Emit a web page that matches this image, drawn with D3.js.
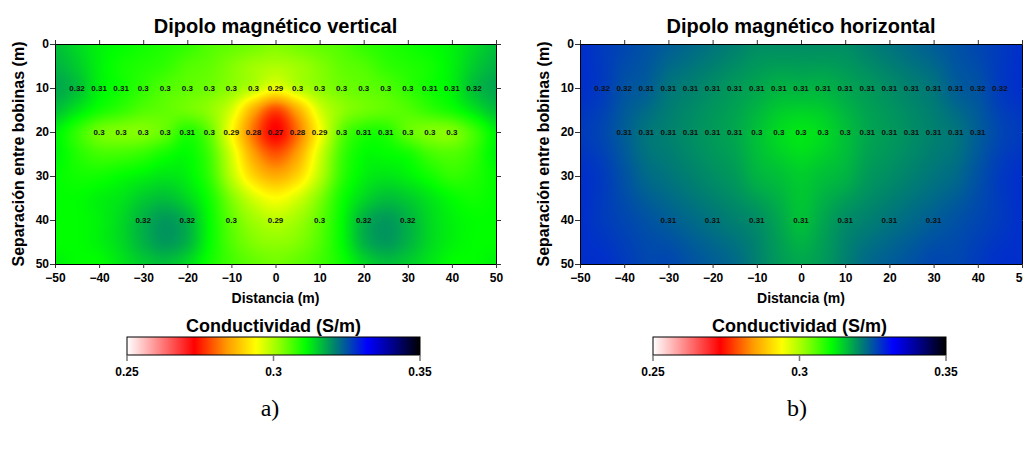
<!DOCTYPE html>
<html><head><meta charset="utf-8">
<script src="https://cdn.jsdelivr.net/npm/d3@7"></script>
<style>body{margin:0;background:#fff}svg{display:block}</style>
</head><body>
<svg id="c" width="1023" height="449"></svg>
<script>
// ---------- data ----------
const xTicks = [-50,-40,-30,-20,-10,0,10,20,30,40,50];
const yTicks = [0,10,20,30,40,50];
const colorTicks = [0.25,0.3,0.35];
const colorStops = [0.25,0.273,0.284,0.294,0.302,0.311,0.321,0.332,0.341,0.35];
const colorRange = ["#ffffff","#ff0000","#ff9900","#ffff00","#90ff00","#00ff00","#00806f","#0000ff","#000088","#000000"];

// label points (distance, separation, value)
const x10 = [-45,-40,-35,-30,-25,-20,-15,-10,-5,0,5,10,15,20,25,30,35,40,45];
const x20 = [-40,-35,-30,-25,-20,-15,-10,-5,0,5,10,15,20,25,30,35,40];
const x40 = [-30,-20,-10,0,10,20,30];
const vmd10 = [0.32,0.31,0.31,0.3,0.3,0.3,0.3,0.3,0.3,0.29,0.3,0.3,0.3,0.3,0.3,0.3,0.31,0.31,0.32];
const vmd20 = [0.3,0.3,0.3,0.3,0.31,0.3,0.29,0.28,0.27,0.28,0.29,0.3,0.31,0.31,0.3,0.3,0.3];
const vmd40 = [0.32,0.32,0.3,0.29,0.3,0.32,0.32];
const hmd10 = [0.32,0.32,0.31,0.31,0.31,0.31,0.31,0.31,0.31,0.31,0.31,0.31,0.31,0.31,0.31,0.31,0.31,0.32,0.32];
const hmd20 = [0.31,0.31,0.31,0.31,0.31,0.31,0.3,0.3,0.3,0.3,0.3,0.31,0.31,0.31,0.31,0.31,0.31];
const hmd40 = [0.31,0.31,0.31,0.31,0.31,0.31,0.31];

// gridded surfaces
const gridX = [-50,-45,-40,-35,-30,-25,-20,-15,-10,-5,0,5,10,15,20,25,30,35,40,45,50];
const vmdGridY = [0,5,10,15,20,25,30,35,40,45,50];
const vmdGrid = [
 [.316,.314,.312,.311,.310,.309,.308,.306,.305,.304,.303,.304,.305,.306,.308,.309,.310,.311,.312,.314,.316],
 [.317,.315,.312,.310,.309,.308,.306,.305,.303,.301,.300,.301,.303,.305,.306,.308,.309,.310,.312,.315,.317],
 [.318,.316,.312,.310,.308,.306,.305,.304,.302,.299,.295,.299,.302,.304,.305,.306,.308,.310,.312,.316,.318],
 [.316,.313,.310,.308,.306,.305,.304,.302,.297,.286,.278,.286,.297,.302,.304,.305,.306,.308,.310,.313,.316],
 [.312,.308,.304,.303,.303,.305,.309,.305,.294,.281,.273,.281,.294,.305,.309,.309,.305,.303,.303,.307,.312],
 [.312,.309,.307,.307,.308,.310,.311,.307,.297,.285,.279,.285,.297,.307,.311,.311,.310,.307,.306,.308,.312],
 [.311,.310,.310,.311,.312,.313,.312,.308,.299,.290,.286,.290,.299,.308,.312,.313,.312,.310,.308,.309,.311],
 [.311,.311,.312,.313,.315,.316,.314,.310,.303,.297,.294,.297,.303,.310,.314,.316,.315,.313,.311,.310,.311],
 [.311,.311,.312,.314,.317,.319,.317,.311,.305,.301,.299,.301,.305,.311,.317,.319,.317,.314,.312,.311,.311],
 [.311,.311,.312,.314,.317,.319,.317,.311,.306,.303,.302,.303,.306,.311,.317,.319,.317,.314,.312,.311,.311],
 [.312,.311,.311,.313,.315,.316,.314,.310,.307,.305,.304,.305,.307,.310,.314,.316,.315,.313,.311,.311,.312]
];
const hmdGridY = [0,10,20,30,40,50];
const hmdGrid = [
 [.328,.327,.326,.325,.324,.323,.322,.321,.320,.320,.320,.320,.320,.321,.322,.323,.324,.325,.326,.327,.328],
 [.328,.327,.325,.324,.322,.321,.320,.319,.318,.317,.317,.317,.318,.319,.320,.321,.322,.324,.325,.327,.328],
 [.327,.326,.324,.322,.321,.320,.319,.318,.316,.314,.313,.314,.316,.318,.319,.320,.321,.322,.324,.326,.327],
 [.328,.327,.325,.323,.322,.321,.320,.319,.317,.316,.315,.316,.317,.319,.320,.321,.322,.323,.325,.327,.328],
 [.328,.327,.326,.325,.324,.323,.322,.321,.320,.318,.316,.318,.320,.321,.322,.323,.324,.325,.326,.327,.328],
 [.328,.328,.327,.326,.326,.325,.324,.323,.321,.319,.318,.319,.321,.323,.324,.325,.326,.326,.327,.328,.328]
];

// ---------- drawing ----------
const FONT = "'Liberation Sans', Arial, sans-serif";
const svg = d3.select("#c");
const color = d3.scaleLinear().domain(colorStops).range(colorRange).interpolate(d3.interpolateRgb).clamp(true);

function cr(p0,p1,p2,p3,t){
  return 0.5*(2*p1 + (-p0+p2)*t + (2*p0-5*p1+4*p2-p3)*t*t + (-p0+3*p1-3*p2+p3)*t*t*t);
}
function sampler(gx, gy, grid){
  const fx = d3.scaleLinear().domain(d3.extent(gx)).range([0,gx.length-1]);
  const fy = d3.scaleLinear().domain(d3.extent(gy)).range([0,gy.length-1]);
  const nr = gy.length, nc = gx.length;
  const g = (i,j)=>grid[Math.max(0,Math.min(nr-1,i))][Math.max(0,Math.min(nc-1,j))];
  return (x,y)=>{
    const a = fx(x), b = fy(y);
    let j = Math.min(nc-2, Math.floor(a)), i = Math.min(nr-2, Math.floor(b));
    const tx = a-j, ty = b-i;
    const r = [];
    for(let m=-1;m<=2;m++) r.push(cr(g(i+m,j-1),g(i+m,j),g(i+m,j+1),g(i+m,j+2),tx));
    return cr(r[0],r[1],r[2],r[3],ty);
  };
}

function panel(opt){
  const x = d3.scaleLinear().domain([-50,50]).range([opt.x0,opt.x1]);
  const y = d3.scaleLinear().domain([0,50]).range([44,264]);
  const W = Math.round(opt.x1-opt.x0), H = 220;
  const f = sampler(gridX, opt.gridY, opt.grid);
  const cv = document.createElement("canvas"); cv.width=W; cv.height=H;
  const ctx = cv.getContext("2d"); const img = ctx.createImageData(W,H);
  for(let py=0;py<H;py++){
    const yy = y.invert(44+py+0.5);
    for(let px=0;px<W;px++){
      const xx = x.invert(opt.x0+px+0.5);
      const c = d3.rgb(color(f(xx,yy)));
      const k=(py*W+px)*4; img.data[k]=c.r; img.data[k+1]=c.g; img.data[k+2]=c.b; img.data[k+3]=255;
    }
  }
  ctx.putImageData(img,0,0);
  const g = svg.append("g");
  g.append("image").attr("x",opt.x0).attr("y",44).attr("width",W).attr("height",H)
    .attr("preserveAspectRatio","none").attr("href",cv.toDataURL());

  const axStyle = sel=>{ sel.selectAll("path").attr("stroke","#000");
    sel.selectAll("line").attr("stroke","#333");
    sel.selectAll("text").attr("font-family",FONT).attr("font-weight","bold").attr("font-size",12).attr("fill","#000"); };
  g.append("g").attr("transform","translate(0,264)")
    .call(d3.axisBottom(x).tickValues(xTicks).tickSize(4).tickPadding(5).tickSizeOuter(0)).call(axStyle);
  g.append("g").attr("transform","translate(0,44)")
    .call(d3.axisTop(x).tickValues(xTicks).tickSize(4).tickFormat("").tickSizeOuter(0)).call(axStyle);
  g.append("g").attr("transform",`translate(${opt.x0},0)`)
    .call(d3.axisLeft(y).tickValues(yTicks).tickSize(5).tickPadding(1).tickSizeOuter(0)).call(axStyle);
  g.append("g").attr("transform",`translate(${opt.x1},0)`)
    .call(d3.axisRight(y).tickValues(yTicks).tickSize(5).tickFormat("").tickSizeOuter(0)).call(axStyle);

  // value labels
  const rows = [[x10,10,opt.v10],[x20,20,opt.v20],[x40,40,opt.v40]];
  rows.forEach(([xs,yy,vs])=>{
    g.append("g").selectAll("text").data(xs.map((d,i)=>({x:d,v:vs[i]}))).join("text")
      .attr("x",d=>x(d.x)).attr("y",y(yy)).attr("dy","0.35em").attr("text-anchor","middle")
      .attr("font-family",FONT).attr("font-weight","bold").attr("font-size",8).attr("fill","#111")
      .text(d=>d.v);
  });

  const cx = (opt.x0+opt.x1)/2;
  g.append("text").attr("x",cx).attr("y",33).attr("text-anchor","middle")
    .attr("font-family",FONT).attr("font-weight","bold").attr("font-size",20).text(opt.title);
  g.append("text").attr("x",cx).attr("y",303).attr("text-anchor","middle")
    .attr("font-family",FONT).attr("font-weight","bold").attr("font-size",14).text("Distancia (m)");
  g.append("text").attr("transform",`translate(${opt.x0-31},154) rotate(-90)`).attr("text-anchor","middle")
    .attr("font-family",FONT).attr("font-weight","bold").attr("font-size",16).text("Separación entre bobinas (m)");

  // colorbar
  const cb = d3.scaleLinear().domain([0.25,0.35]).range([opt.cb0,opt.cb1]);
  const id = "grad"+opt.id;
  const grad = svg.append("defs").append("linearGradient").attr("id",id)
    .attr("gradientUnits","userSpaceOnUse").attr("x1",opt.cb0).attr("x2",opt.cb1).attr("y1",0).attr("y2",0);
  grad.selectAll("stop").data(colorStops).join("stop")
    .attr("offset",d=>(cb(d)-opt.cb0)/(opt.cb1-opt.cb0)).attr("stop-color",d=>color(d));
  g.append("rect").attr("x",opt.cb0).attr("y",337).attr("width",opt.cb1-opt.cb0).attr("height",18)
    .attr("fill",`url(#${id})`).attr("stroke","#000").attr("stroke-width",1);
  g.append("g").selectAll("line").data(colorTicks).join("line")
    .attr("x1",d=>cb(d)).attr("x2",d=>cb(d)).attr("y1",355).attr("y2",361).attr("stroke","#777").attr("stroke-width",1.5);
  g.append("g").selectAll("text").data(colorTicks).join("text")
    .attr("x",d=>cb(d)).attr("y",376).attr("text-anchor","middle")
    .attr("font-family",FONT).attr("font-weight","bold").attr("font-size",12).text(d=>d);
  g.append("text").attr("x",(opt.cb0+opt.cb1)/2).attr("y",332).attr("text-anchor","middle")
    .attr("font-family",FONT).attr("font-weight","bold").attr("font-size",18).text("Conductividad (S/m)");
  g.append("text").attr("x",opt.capX).attr("y",416).attr("text-anchor","middle")
    .attr("font-family","'Liberation Serif','Times New Roman',serif").attr("font-size",24).text(opt.cap);
}

panel({id:"a",x0:55,x1:496,gridY:vmdGridY,grid:vmdGrid,v10:vmd10,v20:vmd20,v40:vmd40,
  title:"Dipolo magnético vertical",cb0:127,cb1:420,cap:"a)",capX:270});
panel({id:"b",x0:580,x1:1022,gridY:hmdGridY,grid:hmdGrid,v10:hmd10,v20:hmd20,v40:hmd40,
  title:"Dipolo magnético horizontal",cb0:653,cb1:946,cap:"b)",capX:797});
</script>
</body></html>
